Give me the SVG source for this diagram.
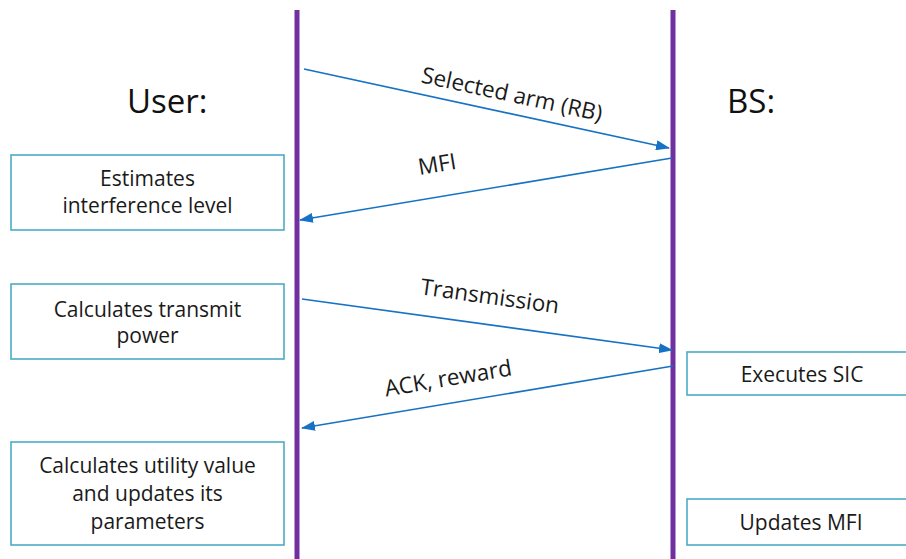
<svg xmlns="http://www.w3.org/2000/svg" width="906" height="559" viewBox="0 0 906 559">
<defs>
<style>
.life{stroke:#7030A0;stroke-width:5;fill:none}
.msg{stroke:#1672C4;stroke-width:1.6;fill:none}
.box{fill:#fff;stroke:#4BACC6;stroke-width:1.6}
.t{font-family:"Open Sans","Noto Sans",sans-serif;font-size:21px;fill:#1a1a1a;text-anchor:middle}
.lbl{font-size:22.5px}
.h{font-family:"Open Sans","Noto Sans",sans-serif;font-size:33px;fill:#111}
</style>
<marker id="ah" markerUnits="userSpaceOnUse" markerWidth="14" markerHeight="10" refX="13" refY="5" orient="auto" viewBox="0 0 14 10">
<path d="M0,0 L14,5 L0,10 z" fill="#1672C4"/>
</marker>
</defs>
<rect width="906" height="559" fill="#fff"/>
<g id="user-lifeline"><line class="life" x1="297" y1="10" x2="297" y2="559"/><text class="h" x="127" y="113">User:</text></g>
<g id="bs-lifeline"><line class="life" x1="673" y1="10" x2="673" y2="559"/><text class="h" x="727" y="113">BS:</text></g>
<g id="connectors">
<line class="msg" x1="304" y1="69" x2="669" y2="148" marker-end="url(#ah)"/>
<line class="msg" x1="672" y1="158" x2="300" y2="220" marker-end="url(#ah)"/>
<line class="msg" x1="302" y1="299" x2="672" y2="350" marker-end="url(#ah)"/>
<line class="msg" x1="673" y1="366" x2="302" y2="428" marker-end="url(#ah)"/>
<text class="t lbl" transform="translate(512,94) rotate(12.2)" y="8">Selected arm (RB)</text>
<text class="t lbl" transform="translate(437,164) rotate(-9.5)" y="8">MFI</text>
<text class="t lbl" transform="translate(490,296) rotate(7.9)" y="8">Transmission</text>
<text class="t lbl" transform="translate(448,378) rotate(-9.5)" y="8">ACK, reward</text>
</g>
<g id="estimates"><rect class="box" x="11" y="155" width="273" height="75"/><text class="t" x="147.5" y="186">Estimates</text><text class="t" x="147.5" y="213">interference level</text></g>
<g id="calc-power"><rect class="box" x="11" y="284" width="273" height="75"/><text class="t" x="147.5" y="317">Calculates transmit</text><text class="t" x="147.5" y="343">power</text></g>
<g id="calc-utility"><rect class="box" x="11" y="442" width="273" height="103"/><text class="t" x="147.5" y="473">Calculates utility value</text><text class="t" x="147.5" y="501">and updates its</text><text class="t" x="147.5" y="529">parameters</text></g>
<g id="sic"><rect class="box" x="687" y="352" width="230" height="43"/><text class="t" x="802" y="382">Executes SIC</text></g>
<g id="update-mfi"><rect class="box" x="687" y="499" width="230" height="46"/><text class="t" x="801" y="530">Updates MFI</text></g>
</svg>
